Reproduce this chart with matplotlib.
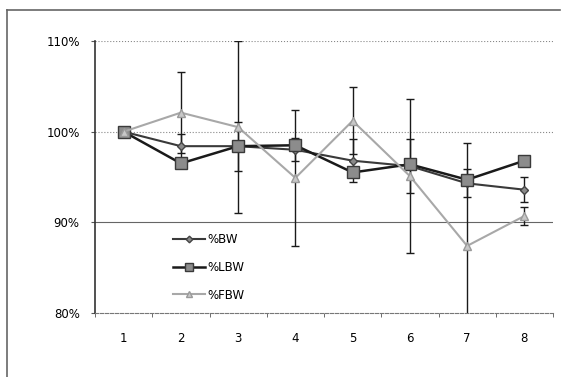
import matplotlib
matplotlib.use("Agg")
import matplotlib.pyplot as plt
from matplotlib.lines import Line2D
from matplotlib.ticker import FixedLocator, FuncFormatter

# --- data ---
weeks = [1, 2, 3, 4, 5, 6, 7, 8]
bw = [100, 98.4, 98.4, 98.0, 96.8, 96.2, 94.3, 93.6]
bw_err = [0, 1.3, 2.7, 1.25, 2.4, 3.0, 1.55, 1.4]
lbw = [100, 96.5, 98.4, 98.5, 95.5, 96.4, 94.7, 96.8]
fbw = [100, 102.1, 100.5, 94.9, 101.2, 95.1, 87.4, 90.7]
fbw_err = [0, 4.5, 9.5, 7.5, 3.7, 8.5, 11.3, 1.0]
y_ticks = [80, 90, 100, 110]

plt.rcParams['font.family'] = ['DejaVu Sans']

fig = plt.figure(figsize=(5.63, 3.77), dpi=100)
ax = fig.add_axes([95 / 563, 1 - 313 / 377, (553 - 95) / 563, (313 - 41) / 377])

# gridlines
for yv in y_ticks[1:]:
    ls = '-' if yv == 90 else ':'
    col = '#666666' if yv == 90 else '#888888'
    ax.axhline(yv, color=col, linestyle=ls, linewidth=0.8, zorder=0)

# error bars (clipped to axes like Excel)
ax.errorbar(weeks, bw, yerr=bw_err, fmt='none', ecolor='#1a1a1a',
            elinewidth=1.0, capsize=3, capthick=1.0, zorder=2)
ax.errorbar(weeks, fbw, yerr=fbw_err, fmt='none', ecolor='#1a1a1a',
            elinewidth=1.0, capsize=3, capthick=1.0, zorder=2)

# series
ax.plot(weeks, bw, color='#3a3a3a', linewidth=1.5, marker='D', markersize=4.5,
        markerfacecolor='#8a8a8a', markeredgecolor='#444444', label='%BW', zorder=3)
ax.plot(weeks, lbw, color='#1a1a1a', linewidth=1.8, marker='s', markersize=8,
        markerfacecolor='#8c8c8c', markeredgecolor='#3a3a3a', label='%LBW', zorder=4)
ax.plot(weeks, fbw, color='#a8a8a8', linewidth=1.5, marker='^', markersize=6,
        markerfacecolor='#c8c8c8', markeredgecolor='#9a9a9a', label='%FBW', zorder=5)

# axes formatting
ax.set_xlim(0.5, 8.5)
ax.set_ylim(80, 110)
ax.set_xticks(weeks)
ax.xaxis.set_minor_locator(FixedLocator([w + 0.5 for w in range(0, 9)]))
ax.tick_params(axis='x', which='major', length=0, pad=14, labelsize=8.5)
ax.tick_params(axis='x', which='minor', length=3, direction='out', color='#555555')
ax.set_yticks(y_ticks)
ax.yaxis.set_major_formatter(FuncFormatter(lambda v, p: f"{int(v)}%"))
ax.tick_params(axis='y', length=3, direction='out', pad=8, labelsize=8.5, color='#555555')

for side in ['top', 'right']:
    ax.spines[side].set_visible(False)
ax.spines['left'].set_color('#333333')
ax.spines['left'].set_linewidth(1.2)
ax.spines['bottom'].set_color('#777777')
ax.spines['bottom'].set_linestyle((0, (3, 1.5)))
ax.spines['bottom'].set_linewidth(0.8)

# legend
ax.legend(loc='upper left', bbox_to_anchor=(173 / 563, 1 - 233 / 377),
          bbox_transform=fig.transFigure, frameon=False, fontsize=8.5,
          handlelength=2.7, handletextpad=0.25, labelspacing=1.25,
          borderpad=0, borderaxespad=0, markerscale=0.75)

# outer chart border (left and top visible)
fig.add_artist(Line2D([7 / 563, 7 / 563], [0, 1 - 10 / 377], color='#666666',
                      linewidth=1.2, transform=fig.transFigure))
fig.add_artist(Line2D([7 / 563, 560 / 563], [1 - 10 / 377, 1 - 10 / 377],
                      color='#666666', linewidth=1.2, transform=fig.transFigure))

fig.savefig("out.png", dpi=100)
plt.close(fig)
